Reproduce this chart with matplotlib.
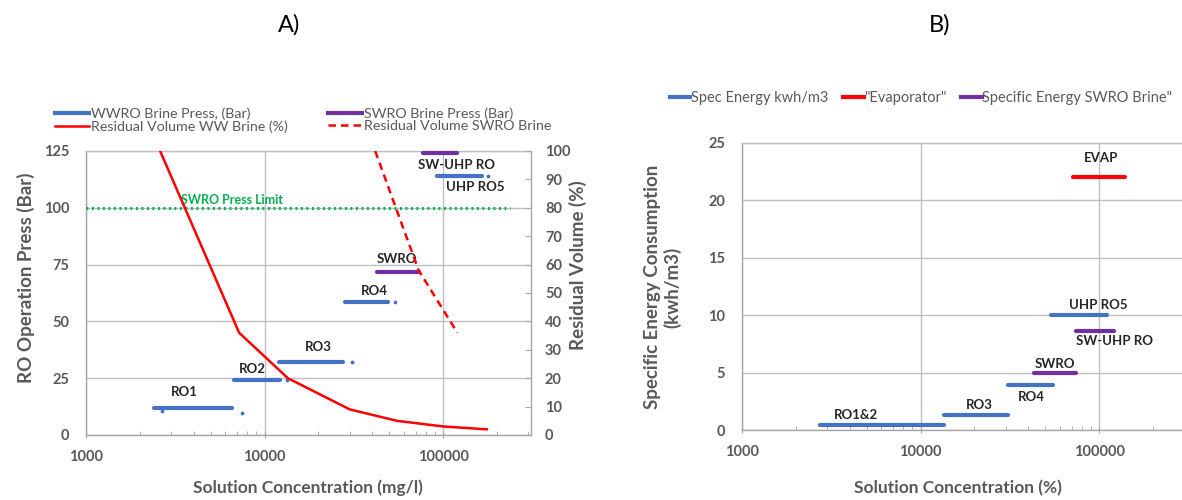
import numpy as np
import matplotlib.pyplot as plt
from matplotlib.lines import Line2D

plt.rcParams['font.family'] = ['Lato', 'DejaVu Sans']

GRAY = '#595959'
GRID = '#bfbfbf'
BLUE = '#4472C4'
RED = '#FF0000'
PURPLE = '#7030A0'
GREEN = '#00B050'

# ---- chart A data ----
ww_labels = ['RO1', 'RO2', 'RO3', 'RO4', 'UHP RO5']
ww_start = [2400, 6700, 12100, 28200, 92500]
ww_end = [6600, 12200, 27500, 49200, 165000]
ww_press = [12, 24.2, 32.1, 58.5, 114]
ww_dot_x = [2670, 7480, 13400, 30900, 53800, 178000]
ww_dot_y = [10.6, 9.7, 24.2, 32.1, 58.5, 114]
ww_lab_x = [3540, 8520, 19950, 41000, 152000]
ww_lab_y = [19, 29, 38.7, 63.4, 109]

sw_labels = ['SWRO', 'SW-UHP RO']
sw_start = [42700, 77300]
sw_end = [72800, 120000]
sw_press = [71.7, 124.3]
sw_lab_x = [55200, 118000]
sw_lab_y = [77.5, 118.8]

resid_ww_x = [2600, 7200, 13500, 30000, 55000, 100000, 175000]
resid_ww_y = [100, 36, 20, 9, 5, 3, 2]
resid_sw_x = [41600, 72800, 120000]
resid_sw_y = [100, 58, 36]

limit_press = 100
limit_x = [1000, 237000]

# ---- chart B data ----
en_labels = ['RO1&2', 'RO3', 'RO4', 'UHP RO5']
en_start = [2740, 13460, 30800, 53800]
en_end = [13460, 30800, 55200, 111000]
en_val = [0.45, 1.35, 3.95, 10]
en_lab_x = [4370, 21200, 41500, 99000]
en_lab_y = [1.3, 2.2, 2.9, 10.9]

sw_en_labels = ['SWRO', 'SW-UHP RO']
sw_en_start = [43200, 74000]
sw_en_end = [74000, 121000]
sw_en_val = [5.0, 8.6]
sw_en_lab_x = [56600, 121000]
sw_en_lab_y = [5.75, 7.75]

evap_start = [71500]
evap_end = [140000]
evap_val = [22]
evap_lab_x = [102000]
evap_lab_y = [23.7]

fig = plt.figure(figsize=(11.82, 5.0), dpi=100)


def style_axes(ax, ymax, ystep):
    ax.set_xscale('log')
    ax.set_xlim(1000, 310000)
    ax.set_ylim(0, ymax)
    ax.set_yticks(np.arange(0, ymax + 1, ystep))
    ax.grid(True, which='major', color=GRID, lw=1.0)
    ax.set_axisbelow(True)
    for s in ax.spines.values():
        s.set_color(GRID)
        s.set_linewidth(1.0)
    ax.spines['left'].set_color('#a6a6a6')
    ax.spines['bottom'].set_color('#a6a6a6')
    ax.tick_params(axis='y', length=0, pad=12, labelsize=10.5, labelcolor=GRAY)
    ax.tick_params(axis='x', which='major', length=5, direction='inout',
                   color='#a6a6a6', pad=8, labelsize=10.5, labelcolor=GRAY)
    ax.tick_params(axis='x', which='minor', length=3, direction='in', color='#a6a6a6')
    ax.xaxis.set_major_formatter(plt.FuncFormatter(lambda v, p: '%d' % v))
    ax.xaxis.set_minor_formatter(plt.NullFormatter())
    for lab in ax.get_xticklabels() + ax.get_yticklabels():
        lab.set_fontweight('bold')


def segments(ax, x0, x1, y, color):
    for a, b, v in zip(x0, x1, y):
        ax.plot([a, b], [v, v], color=color, lw=3, solid_capstyle='round',
                clip_on=False, zorder=3)


def labels(ax, names, xs, ys):
    for n, x, y in zip(names, xs, ys):
        ax.text(x, y, n, ha='center', va='center', fontsize=9.5,
                fontweight='bold', color='#262626', zorder=5)


# ---------------- chart A ----------------
axA = fig.add_axes([86 / 1182, 65 / 500, 445 / 1182, 284 / 500])
style_axes(axA, 125, 25)
axR = axA.twinx()
axR.set_ylim(0, 100)
axR.set_yticks(np.arange(0, 101, 10))
axR.tick_params(axis='y', length=4, direction='in', color='#a6a6a6', pad=10,
                labelsize=10.5, labelcolor=GRAY)
for lab in axR.get_yticklabels():
    lab.set_fontweight('bold')
for s in axR.spines.values():
    s.set_visible(False)
axR.spines['right'].set_visible(True)
axR.spines['right'].set_color('#a6a6a6')

segments(axA, ww_start, ww_end, ww_press, BLUE)
axA.scatter(ww_dot_x, ww_dot_y, s=3, color=BLUE, zorder=3)
segments(axA, sw_start, sw_end, sw_press, PURPLE)
axA.plot(limit_x, [limit_press, limit_press], color=GREEN, lw=2.2,
         linestyle=(0, (0.6, 1.2)), zorder=3)
axA.text(6600, 103.4, 'SWRO Press Limit', color=GREEN, fontsize=9,
         fontweight='bold', ha='center', va='center')
labels(axA, ww_labels, ww_lab_x, ww_lab_y)
labels(axA, sw_labels, sw_lab_x, sw_lab_y)

axR.plot(resid_ww_x, resid_ww_y, color=RED, lw=1.8, zorder=4)
axR.plot(resid_sw_x, resid_sw_y, color=RED, lw=1.8, linestyle=(0, (3, 2)), zorder=4)

fig.text(289 / 1182, 1 - 25 / 500, 'A)', fontsize=17, ha='center', va='center')
fig.text(26 / 1182, 1 - 278 / 500, 'RO Operation Press (Bar)', rotation=90,
         fontsize=13.5, fontweight='bold', color=GRAY, ha='center', va='center')
fig.text(578 / 1182, 1 - 265 / 500, 'Residual Volume (%)', rotation=90,
         fontsize=13.5, fontweight='bold', color=GRAY, ha='center', va='center')
fig.text(308 / 1182, 1 - 488 / 500, 'Solution Concentration (mg/l)',
         fontsize=12.5, fontweight='bold', color=GRAY, ha='center', va='center')

leg_kw = dict(frameon=False, fontsize=10.3, labelcolor=GRAY, handlelength=2.4,
              handletextpad=0.1, labelspacing=0.05, borderpad=0, borderaxespad=0)
fig.legend([Line2D([], [], color=BLUE, lw=3), Line2D([], [], color=RED, lw=1.8)],
           ['WWRO Brine Press, (Bar)', 'Residual Volume WW Brine (%)'],
           loc='upper left', bbox_to_anchor=(55 / 1182, 1 - 107 / 500), **leg_kw)
fig.legend([Line2D([], [], color=PURPLE, lw=3),
            Line2D([], [], color=RED, lw=1.8, linestyle=(0, (3, 2)))],
           ['SWRO Brine Press (Bar)', 'Residual Volume SWRO Brine'],
           loc='upper left', bbox_to_anchor=(328 / 1182, 1 - 107 / 500), **leg_kw)

# ---------------- chart B ----------------
axB = fig.add_axes([742 / 1182, 70 / 500, 445 / 1182, 287 / 500])
style_axes(axB, 25, 5)
axB.spines['right'].set_visible(False)
segments(axB, en_start, en_end, en_val, BLUE)
segments(axB, sw_en_start, sw_en_end, sw_en_val, PURPLE)
segments(axB, evap_start, evap_end, evap_val, RED)
labels(axB, en_labels, en_lab_x, en_lab_y)
labels(axB, sw_en_labels, sw_en_lab_x, sw_en_lab_y)
labels(axB, ['EVAP'], evap_lab_x, evap_lab_y)

fig.text(940 / 1182, 1 - 25 / 500, 'B)', fontsize=17, ha='center', va='center')
fig.text(663 / 1182, 1 - 287 / 500, 'Specific Energy Consumption\n(kwh/m3)',
         rotation=90, fontsize=13.5, fontweight='bold', color=GRAY,
         ha='center', va='center', multialignment='center', linespacing=1.15)
fig.text(958 / 1182, 1 - 488 / 500, 'Solution Concentration (%)',
         fontsize=12.5, fontweight='bold', color=GRAY, ha='center', va='center')

fig.legend([Line2D([], [], color=BLUE, lw=3), Line2D([], [], color=RED, lw=3),
            Line2D([], [], color=PURPLE, lw=3)],
           ['Spec Energy kwh/m3', '"Evaporator"', 'Specific Energy SWRO Brine"'],
           loc='upper left', bbox_to_anchor=(670 / 1182, 1 - 91 / 500), ncol=3,
           frameon=False, fontsize=10.5, labelcolor=GRAY, handlelength=1.4,
           handletextpad=0.05, columnspacing=1.0, borderpad=0, borderaxespad=0)

fig.savefig('out.png', dpi=100)
